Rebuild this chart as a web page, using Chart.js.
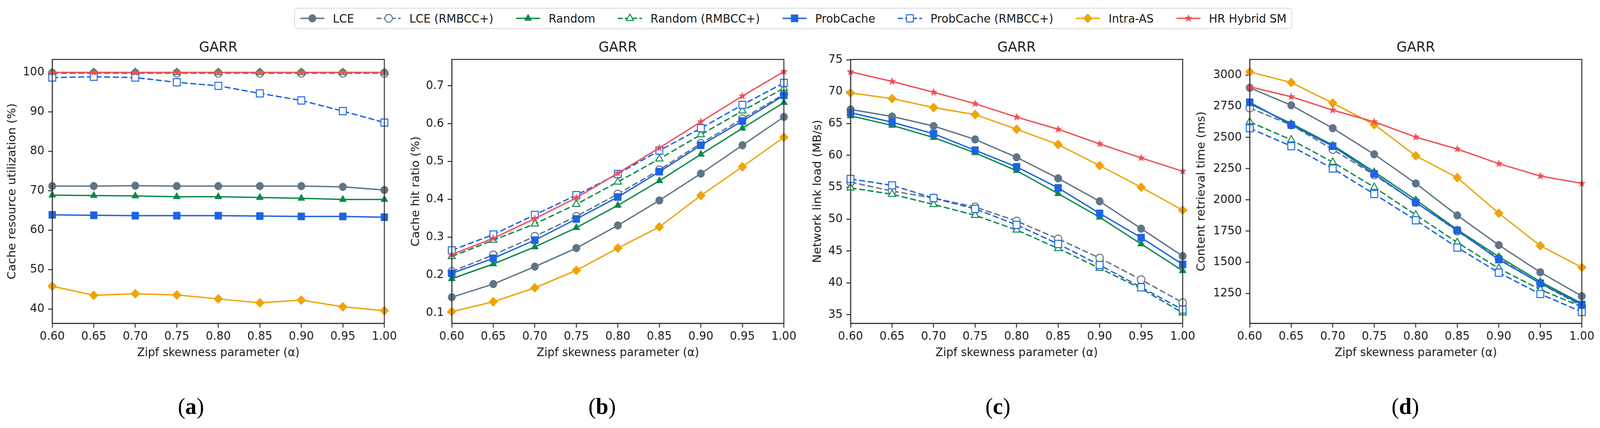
<!DOCTYPE html>
<html><head><meta charset="utf-8">
<script src="https://cdn.jsdelivr.net/npm/chart.js@4.4.1/dist/chart.umd.min.js"></script>
<style>
html,body{margin:0;padding:0;background:#fff;overflow:hidden;font-family:'DejaVu Sans';}
#wrap{position:absolute;left:0;top:0;width:4257px;height:1096px;transform-origin:0 0;}
canvas.panel{position:absolute;}
#legend{position:absolute;right:819px;top:20px;height:54px;border:2.5px solid #d9d9d9;border-radius:7px;display:flex;align-items:center;padding:0 13px 0 14px;box-sizing:border-box;background:#fff;}
.item{display:flex;align-items:center;margin-right:60px;font-size:30px;color:#1a1a1a;white-space:nowrap;}
.item:last-child{margin-right:0;}
.item canvas{margin-right:23px;}
.sub{position:absolute;font-family:'Liberation Serif';font-size:60px;line-height:1;color:#000;transform:translate(-50%,-50%);white-space:nowrap;}
</style></head><body>
<div id="wrap">
<div id="legend"></div>
<canvas id="ca" class="panel"></canvas>
<canvas id="cb" class="panel"></canvas>
<canvas id="cc" class="panel"></canvas>
<canvas id="cd" class="panel"></canvas>
<div class="sub" style="left:508px;top:1040px">(<b>a</b>)</div>
<div class="sub" style="left:1602px;top:1040px">(<b>b</b>)</div>
<div class="sub" style="left:2655px;top:1040px">(<b>c</b>)</div>
<div class="sub" style="left:3739px;top:1040px">(<b>d</b>)</div>
</div>
<script>
// ---------- data ----------
const xLabels = ['0.60','0.65','0.70','0.75','0.80','0.85','0.90','0.95','1.00'];
const seriesNames = ['LCE','LCE (RMBCC+)','Random','Random (RMBCC+)','ProbCache','ProbCache (RMBCC+)','Intra-AS','HR Hybrid SM'];

// (a) cache resource utilization (%)
const utilLCE     = [71.2,71.2,71.3,71.2,71.2,71.2,71.2,71.0,70.2];
const utilLCER    = [99.8,99.8,99.8,99.8,99.8,99.8,99.8,99.8,99.8];
const utilRandom  = [68.9,68.8,68.7,68.5,68.5,68.3,68.1,67.8,67.8];
const utilRandomR = [100,100,100,100,100,100,100,100,100];
const utilProb    = [63.9,63.8,63.7,63.7,63.7,63.6,63.5,63.5,63.3];
const utilProbR   = [98.7,98.9,98.7,97.5,96.6,94.7,92.9,90.2,87.3];
const utilIntra   = [45.8,43.5,43.9,43.6,42.6,41.6,42.3,40.6,39.6];
const utilHR      = [100,100,100,100,100,100,100,100,100];

// (b) cache hit ratio
const hitLCE     = [0.141,0.176,0.222,0.271,0.331,0.397,0.468,0.543,0.618];
const hitLCER    = [0.209,0.253,0.302,0.355,0.414,0.478,0.548,0.613,0.678];
const hitRandom  = [0.190,0.229,0.274,0.325,0.384,0.449,0.519,0.588,0.656];
const hitRandomR = [0.249,0.292,0.335,0.387,0.446,0.507,0.571,0.634,0.694];
const hitProb    = [0.204,0.244,0.292,0.348,0.406,0.473,0.543,0.607,0.675];
const hitProbR   = [0.265,0.307,0.359,0.411,0.467,0.529,0.588,0.650,0.708];
const hitIntra   = [0.103,0.129,0.166,0.212,0.271,0.327,0.410,0.486,0.564];
const hitHR      = [0.254,0.297,0.349,0.404,0.469,0.536,0.605,0.673,0.738];

// (c) network link load (MB/s)
const loadLCE     = [67.2,66.1,64.6,62.5,59.7,56.4,52.8,48.5,44.2];
const loadLCER    = [55.8,54.4,53.3,51.9,49.7,46.9,43.9,40.5,36.9];
const loadRandom  = [66.2,64.7,62.8,60.4,57.6,54.0,50.3,46.1,41.9];
const loadRandomR = [54.9,53.9,52.3,50.6,48.3,45.4,42.3,39.1,35.3];
const loadProb    = [66.7,65.2,63.4,60.8,58.2,54.9,50.9,47.1,42.9];
const loadProbR   = [56.3,55.3,53.3,51.6,49.1,46.1,42.8,39.3,35.8];
const loadIntra   = [69.8,68.9,67.5,66.4,64.1,61.7,58.4,55.0,51.4];
const loadHR      = [73.1,71.6,69.9,68.1,66.0,64.1,61.8,59.6,57.5];

// (d) content retrieval time (ms)
const timeLCE     = [2898,2758,2574,2365,2132,1876,1638,1420,1229];
const timeLCER    = [2736,2600,2404,2200,1980,1750,1530,1330,1150];
const timeRandom  = [2770,2612,2438,2225,2000,1761,1545,1345,1170];
const timeRandomR = [2625,2481,2302,2101,1880,1659,1451,1281,1144];
const timeProb    = [2782,2600,2430,2208,1979,1756,1522,1332,1161];
const timeProbR   = [2574,2430,2251,2047,1837,1618,1417,1246,1102];
const timeIntra   = [3025,2940,2775,2603,2353,2178,1893,1633,1459];
const timeHR      = [2906,2826,2719,2625,2503,2407,2290,2191,2132];

// tick labels
const yTicksA = [40,50,60,70,80,90,100];
const yTicksB = [0.1,0.2,0.3,0.4,0.5,0.6,0.7];
const yTicksC = [35,40,45,50,55,60,65,70,75];
const yTicksD = [1250,1500,1750,2000,2250,2500,2750,3000];

const panelTitle = 'GARR';
const xTitle = 'Zipf skewness parameter (\u03b1)';
const yTitles = ['Cache resource utilization (%)','Cache hit ratio (%)','Network link load (MB/s)','Content retrieval time (ms)'];

// fit the 4257-wide design into the actual viewport
(function(){
  const w=document.getElementById('wrap');
  const sx=window.innerWidth/4257, sy=window.innerHeight/1096;
  w.style.transform='scale('+sx+','+sy+')';
})();

// ---------- styles ----------
const C_GRAY='#5f7587', C_GREEN='#0b8a4b', C_BLUE='#1d63e3', C_ORANGE='#eea407', C_RED='#ee5157';
const TXT='#1a1a1a', AX='#2b2b2b';

function starCanvas(color, r){
  const s=Math.ceil(2*r+4), c=document.createElement('canvas'); c.width=c.height=s;
  const g=c.getContext('2d'); g.beginPath();
  for(let k=0;k<10;k++){const rr=k%2?r*0.42:r;const a=-Math.PI/2+k*Math.PI/5;g.lineTo(s/2+rr*Math.cos(a),s/2+rr*Math.sin(a));}
  g.closePath(); g.fillStyle=color; g.fill(); return c;
}
const starImg = starCanvas(C_RED, 11);

const styles = [
  {color:C_GRAY,  point:'circle',  r:10, open:false, dash:false},
  {color:C_GRAY,  point:'circle',  r:10, open:true,  dash:true},
  {color:C_GREEN, point:'triangle',r:11, open:false, dash:false},
  {color:C_GREEN, point:'triangle',r:11, open:true,  dash:true},
  {color:C_BLUE,  point:'rect',    r:13, open:false, dash:false},
  {color:C_BLUE,  point:'rect',    r:13, open:true,  dash:true},
  {color:C_ORANGE,point:'rectRot', r:12, open:false, dash:false},
  {color:C_RED,   point:starImg,   r:11, open:false, dash:false},
];
const DASH=[16,7];

Chart.defaults.font.family="'DejaVu Sans'";
Chart.defaults.font.size=30;
Chart.defaults.color=TXT;

const framePlugin={id:'frame',afterDatasetsDraw(chart){
  const a=chart.chartArea,ctx=chart.ctx;ctx.save();ctx.strokeStyle=AX;ctx.lineWidth=2.5;
  ctx.strokeRect(a.left,a.top,a.right-a.left,a.bottom-a.top);ctx.restore();}};

function makeChart(id, canvasLeft, axisW, seriesList, yMin, yMax, yTicks, yFmt, yTitle){
  const plotW=886, rightPad=36, canvasTop=80, canvasBottom=922;
  const cv=document.getElementById(id);
  cv.width=axisW+plotW+rightPad; cv.height=canvasBottom-canvasTop;
  cv.style.left=canvasLeft+'px'; cv.style.top=canvasTop+'px';
  cv.style.width=cv.width+'px'; cv.style.height=cv.height+'px';
  const n=seriesList.length;
  const datasets=seriesList.map((vals,i)=>{const s=styles[i];return{
    label:seriesNames[i], data:vals, borderColor:s.color, borderWidth:3.5,
    borderDash:s.dash?DASH:[], pointStyle:s.point, pointRadius:s.r,
    pointBackgroundColor:s.open?'#ffffff':s.color, pointBorderColor:s.color,
    pointBorderWidth:s.open?2.5:1, tension:0, fill:false, order:n-1-i};});
  return new Chart(cv,{type:'line',data:{labels:xLabels,datasets},
    plugins:[framePlugin],
    options:{responsive:false,animation:false,events:[],devicePixelRatio:1,
      layout:{padding:{left:0,right:rightPad,top:0,bottom:0}},
      plugins:{legend:{display:false},tooltip:{enabled:false},
        title:{display:true,text:panelTitle,fullSize:false,color:TXT,font:{size:36,weight:'normal'},padding:{top:21,bottom:8}}},
      scales:{
        x:{type:'category',offset:false,
          grid:{display:true,drawOnChartArea:false,drawTicks:true,tickLength:11,tickWidth:2.5,tickColor:AX,offset:false},
          border:{display:true,color:AX,width:2.5},
          ticks:{padding:5,maxRotation:0,autoSkip:false,color:TXT,font:{size:30}},
          title:{display:true,text:xTitle,color:TXT,font:{size:30},padding:0},
          afterFit(s){s.height=94;}},
        y:{type:'linear',min:yMin,max:yMax,
          afterBuildTicks(s){s.ticks=yTicks.map(v=>({value:v}));},
          grid:{display:true,drawOnChartArea:false,drawTicks:true,tickLength:11,tickWidth:2.5,tickColor:AX},
          border:{display:true,color:AX,width:2.5},
          ticks:{padding:10,color:TXT,font:{size:30},callback:(v)=>yFmt(v)},
          title:{display:true,text:yTitle,color:TXT,font:{size:30},padding:0},
          afterFit(s){s.width=axisW;}}
      }}});
}

makeChart('ca',15,124,[utilLCE,utilLCER,utilRandom,utilRandomR,utilProb,utilProbR,utilIntra,utilHR],36.4,103.3,yTicksA,v=>String(v),yTitles[0]);
makeChart('cb',1089,113,[hitLCE,hitLCER,hitRandom,hitRandomR,hitProb,hitProbR,hitIntra,hitHR],0.072,0.770,yTicksB,v=>v.toFixed(1),yTitles[1]);
makeChart('cc',2158,105,[loadLCE,loadLCER,loadRandom,loadRandomR,loadProb,loadProbR,loadIntra,loadHR],33.65,75.05,yTicksC,v=>String(v),yTitles[2]);
makeChart('cd',3179,146,[timeLCE,timeLCER,timeRandom,timeRandomR,timeProb,timeProbR,timeIntra,timeHR],1011,3125,yTicksD,v=>String(v),yTitles[3]);

// ---------- legend ----------
function drawMarker(g,s,x,y){
  g.save();
  g.fillStyle=s.open?'#ffffff':s.color; g.strokeStyle=s.color; g.lineWidth=s.open?2.5:1;
  if(Chart.helpers&&Chart.helpers.drawPoint){
    Chart.helpers.drawPoint(g,{pointStyle:s.point,radius:s.r,borderWidth:g.lineWidth,rotation:0},x,y);
  }else{
    g.beginPath();g.arc(x,y,s.r,0,Math.PI*2);g.fill();g.stroke();
  }
  g.restore();
}
const leg=document.getElementById('legend');
seriesNames.forEach((name,i)=>{
  const s=styles[i];
  const it=document.createElement('div');it.className='item';
  const c=document.createElement('canvas');c.width=64;c.height=36;c.style.width='64px';c.style.height='36px';
  const g=c.getContext('2d');
  g.strokeStyle=s.color;g.lineWidth=3.5;g.setLineDash(s.dash?[13,6]:[]);
  g.beginPath();g.moveTo(0,18);g.lineTo(64,18);g.stroke();g.setLineDash([]);
  drawMarker(g,s,32,18);
  const t=document.createElement('span');t.textContent=name;
  it.appendChild(c);it.appendChild(t);leg.appendChild(it);
});
</script>
</body></html>
